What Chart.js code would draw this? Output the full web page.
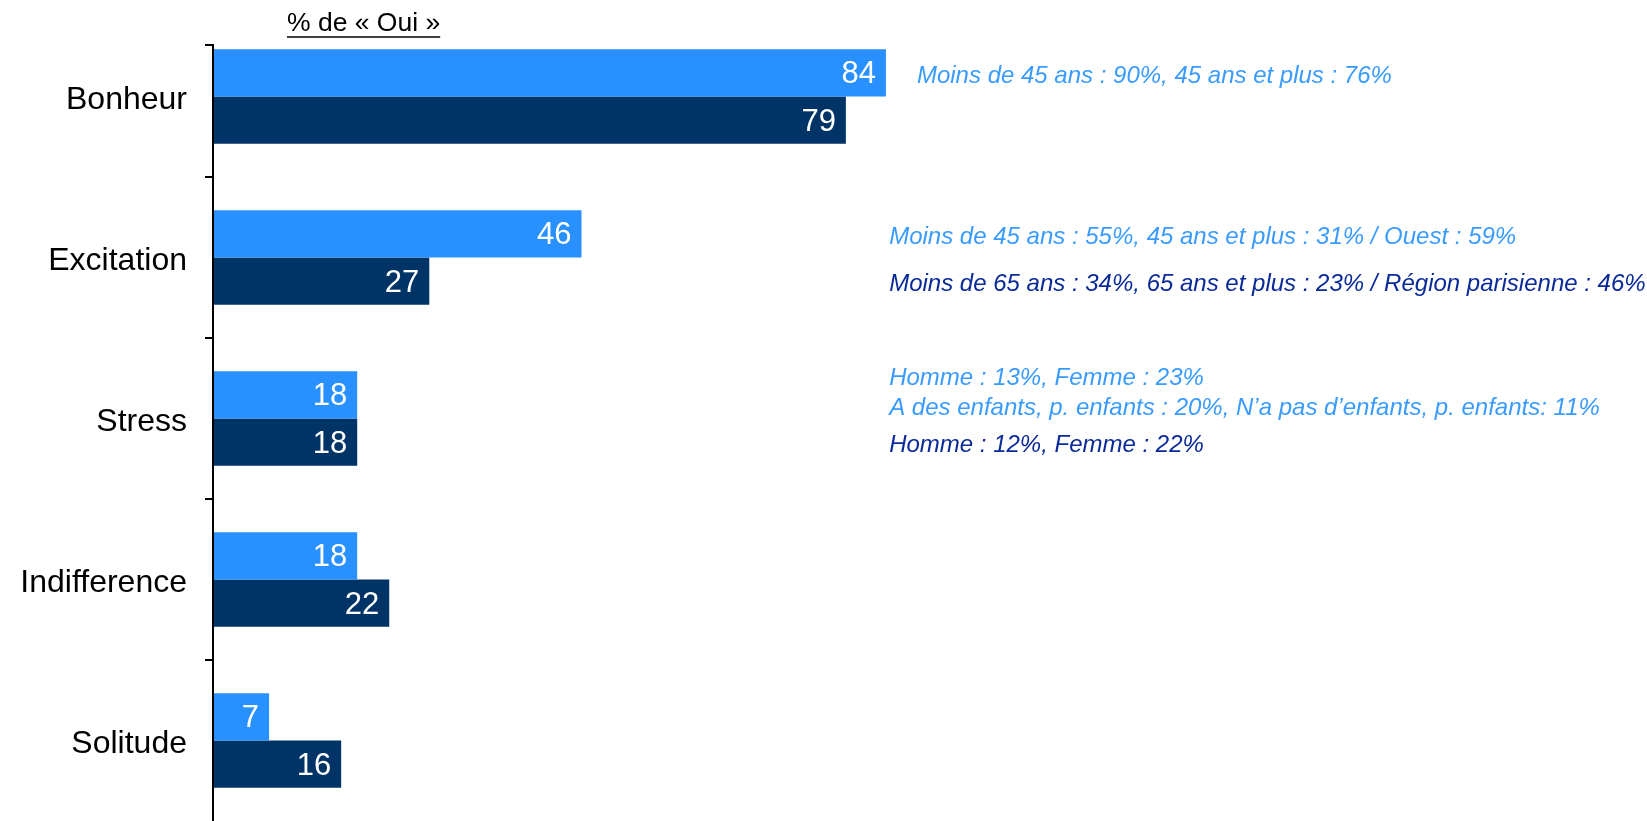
<!DOCTYPE html>
<html>
<head>
<meta charset="utf-8">
<script src="https://cdn.jsdelivr.net/npm/chart.js@4.4.1/dist/chart.umd.min.js"></script>
<style>
  body { margin: 0; background: #fff; }
  #wrap { width: 1647px; height: 821px; position: relative; }
</style>
</head>
<body>
<div id="wrap"><canvas id="emotionsChart"></canvas></div>
<script>
const categories = ["Bonheur", "Excitation", "Stress", "Indifference", "Solitude"];
const valeursClair = [84, 46, 18, 18, 7];
const valeursFonce = [79, 27, 18, 22, 16];
const titreAxe = "% de « Oui »";

// commentaires a droite des barres, par categorie
const notesClair = [
  ["Moins de 45 ans : 90%, 45 ans et plus : 76%"],
  ["Moins de 45 ans : 55%, 45 ans et plus : 31% / Ouest : 59%"],
  ["Homme : 13%, Femme : 23%", "A des enfants, p. enfants : 20%, N’a pas d’enfants, p. enfants: 11%"],
  [],
  [],
];
const notesFonce = [
  [],
  ["Moins de 65 ans : 34%, 65 ans et plus : 23% / Région parisienne : 46%"],
  ["Homme : 12%, Femme : 22%"],
  [],
  [],
];

const bleuClair = "#2891ff";
const bleuFonce = "#003366";
const texteClair = "#3a9bff";
const texteFonce = "#0a2a9a";

const etiquettesPlugin = {
  id: "etiquettes",
  afterDatasetsDraw(chart) {
    const ctx = chart.ctx;
    ctx.save();
    ctx.font = "31px 'Liberation Sans', Arial, sans-serif";
    ctx.fillStyle = "#fff";
    ctx.textAlign = "right";
    ctx.textBaseline = "middle";
    chart.data.datasets.forEach((ds, i) => {
      chart.getDatasetMeta(i).data.forEach((bar, j) => {
        ctx.fillText(ds.data[j], bar.x - 10, bar.y + 2);
      });
    });
    ctx.restore();
  },
  afterDraw(chart) {
    const ctx = chart.ctx;
    const area = chart.chartArea;
    const xScale = chart.scales.x;
    ctx.save();

    // axe vertical
    ctx.strokeStyle = "#000";
    ctx.lineWidth = 2;
    ctx.beginPath();
    ctx.moveTo(area.left - 8, area.top + 29);
    ctx.lineTo(area.left, area.top + 29);
    ctx.lineTo(area.left, area.bottom);
    ctx.stroke();

    // titre souligne
    ctx.font = "26.5px 'Liberation Sans', Arial, sans-serif";
    ctx.fillStyle = "#000";
    ctx.textAlign = "left";
    ctx.textBaseline = "middle";
    const tx = area.left + 74;
    const ty = area.top + 8;
    ctx.fillText(titreAxe, tx, ty);
    const w = ctx.measureText(titreAxe).width;
    ctx.lineWidth = 1.5;
    ctx.beginPath();
    ctx.moveTo(tx, ty + 13);
    ctx.lineTo(tx + w, ty + 13);
    ctx.stroke();

    // notes
    ctx.font = "italic 24px 'Liberation Sans', Arial, sans-serif";
    const notes = [notesClair, notesFonce];
    const couleurs = [texteClair, texteFonce];
    notes.forEach((liste, i) => {
      const meta = chart.getDatasetMeta(i);
      ctx.fillStyle = couleurs[i];
      liste.forEach((lignes, j) => {
        if (!lignes.length) return;
        const bar = meta.data[j];
        const x = Math.max(xScale.getPixelForValue(84.4), bar.x + 31);
        const y0 = bar.y + 3 - (lignes.length - 1) * 30 / 2 - (lignes.length > 1 ? 5 : 0);
        lignes.forEach((l, k) => ctx.fillText(l, x, y0 + k * 30));
      });
    });
    ctx.restore();
  },
};

const ctx = document.getElementById("emotionsChart").getContext("2d");
new Chart(ctx, {
  type: "bar",
  data: {
    labels: categories,
    datasets: [
      { data: valeursClair, backgroundColor: bleuClair },
      { data: valeursFonce, backgroundColor: bleuFonce },
    ],
  },
  options: {
    indexAxis: "y",
    responsive: true,
    maintainAspectRatio: false,
    animation: false,
    layout: { padding: { top: 16, right: 0, bottom: 0, left: 0 } },
    plugins: { legend: { display: false }, tooltip: { enabled: false } },
    datasets: { bar: { categoryPercentage: 0.586, barPercentage: 1 } },
    scales: {
      x: {
        display: false,
        min: 0,
        max: 179,
      },
      y: {
        afterFit: (scale) => {
          scale.width = 213;
          scale.paddingTop = 0;
          scale.paddingBottom = 0;
        },
        border: { display: false },
        grid: {
          drawOnChartArea: false,
          drawTicks: true,
          tickLength: 8,
          lineWidth: 2,
          color: (c) => (c.type !== "tick" || c.index === 0 ? "rgba(0,0,0,0)" : "#000"),
        },
        ticks: {
          color: "#000",
          padding: 18,
          labelOffset: 4,
          font: { family: "'Liberation Sans', Arial, sans-serif", size: 32 },
        },
      },
    },
  },
  plugins: [etiquettesPlugin],
});
</script>
</body>
</html>
